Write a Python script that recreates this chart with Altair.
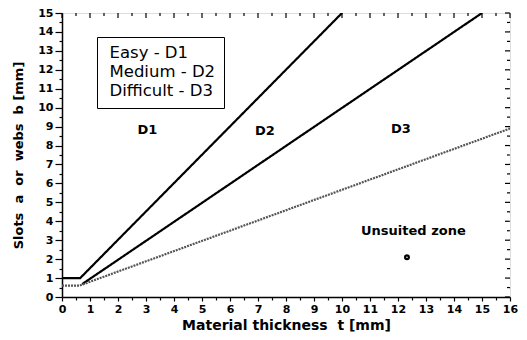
import altair as alt
import pandas as pd

# ---- data ----
categories = ["Easy - D1", "Medium - D2", "Difficult - D3"]

d1_t = [0.0, 0.65, 10.0]
d1_b = [1.0, 1.0, 15.0]

d2_t = [0.72, 15.0]
d2_b = [0.68, 15.0]

d3_t = [0.0, 0.62, 16.0]
d3_b = [0.6, 0.6, 8.9]

region_labels = ["D1", "D2", "D3", "Unsuited zone"]
region_t = [3.05, 7.25, 12.1, 12.55]
region_b = [8.8, 8.75, 8.85, 3.5]

blob_t = [12.32]
blob_b = [2.1]

x_ticks = [i * 0.5 for i in range(33)]
y_ticks = [i * 0.5 for i in range(31)]
x_max = 16
y_max = 15

x_title = "Material thickness\u00a0\u00a0t [mm]"
y_title = "Slots\u00a0\u00a0a\u00a0\u00a0or\u00a0\u00a0webs\u00a0\u00a0b [mm]"

# ---- tables ----
rows = []
for name, ts, bs in zip(categories, [d1_t, d2_t, d3_t], [d1_b, d2_b, d3_b]):
    for i, (t, b) in enumerate(zip(ts, bs)):
        rows.append({"level": name, "t": t, "b": b, "i": i})
lines = pd.DataFrame(rows)
labels = pd.DataFrame({"txt": region_labels, "t": region_t, "b": region_b})
blob = pd.DataFrame({"t": blob_t, "b": blob_b})
tx = pd.DataFrame({"v": x_ticks})
ty = pd.DataFrame({"v": y_ticks})

FONT = "DejaVu Sans"
major = "datum.value % 1 === 0"
label_expr = f"{major} ? '' + datum.value : ''"

xscale = alt.Scale(domain=[0, x_max], nice=False, zero=False)
yscale = alt.Scale(domain=[0, y_max], nice=False, zero=False)

xaxis = alt.Axis(
    values=x_ticks, labelExpr=label_expr,
    tickSize={"condition": {"test": major, "value": 4}, "value": 3},
    tickColor="black", tickWidth=1.2, domainColor="black", domainWidth=1.5,
    labelFont=FONT, labelFontWeight="bold", labelFontSize=11, labelColor="black",
    labelPadding=2, labelOverlap=False, labelFlush=False, grid=False,
    title=x_title, titleFont=FONT, titleFontSize=14, titleFontWeight="bold",
    titleColor="black", titlePadding=4,
)
yaxis = alt.Axis(
    values=y_ticks, labelExpr=label_expr,
    tickSize={"condition": {"test": major, "value": 7}, "value": 3},
    tickColor="black", tickWidth=1.2, domainColor="black", domainWidth=1.5,
    labelFont=FONT, labelFontWeight="bold", labelFontSize=11, labelColor="black",
    labelPadding=2, labelOverlap=False, labelFlush=False, grid=False,
    title=y_title, titleFont=FONT, titleFontSize=13, titleFontWeight="bold",
    titleColor="black", titlePadding=12,
)

line_chart = alt.Chart(lines).mark_line(clip=True).encode(
    x=alt.X("t:Q", scale=xscale, axis=xaxis),
    y=alt.Y("b:Q", scale=yscale, axis=yaxis),
    color=alt.Color(
        "level:N",
        scale=alt.Scale(domain=categories, range=["#000000", "#000000", "#555555"]),
        legend=alt.Legend(
            title=None, orient="none", legendX=35, legendY=24,
            strokeColor="black", fillColor="white", padding=8,
            labelFont=FONT, labelFontSize=16.5, labelColor="black",
            labelOffset={"expr": "-12"}, rowPadding=2, symbolSize=0, symbolOpacity=0,
            symbolStrokeWidth=0,
        ),
    ),
    strokeWidth=alt.StrokeWidth(
        "level:N", scale=alt.Scale(domain=categories, range=[2.2, 2.2, 1.0]), legend=None
    ),
    strokeDash=alt.StrokeDash(
        "level:N", scale=alt.Scale(domain=categories, range=[[1, 0], [1, 0], [2, 1]]), legend=None
    ),
    order="i:Q",
)

text_chart = alt.Chart(labels).mark_text(
    font=FONT, fontWeight="bold", fontSize=13, color="black"
).encode(
    x=alt.X("t:Q", scale=xscale, axis=None),
    y=alt.Y("b:Q", scale=yscale, axis=None),
    text="txt:N",
)

blob_chart = alt.Chart(blob).mark_point(
    shape="circle", filled=False, size=14, strokeWidth=2.2, color="black", opacity=1
).encode(
    x=alt.X("t:Q", scale=xscale, axis=None),
    y=alt.Y("b:Q", scale=yscale, axis=None),
)


def top_ticks(test, length):
    return alt.Chart(tx).transform_filter(test).mark_tick(
        orient="vertical", size=length, thickness=1.2, color="black",
        yOffset=length / 2, opacity=1,
    ).encode(
        x=alt.X("v:Q", scale=xscale, axis=None),
        y=alt.YDatum(y_max, type="quantitative", scale=yscale, axis=None),
    )


def right_ticks(test, length):
    return alt.Chart(ty).transform_filter(test).mark_tick(
        orient="horizontal", size=length, thickness=1.2, color="black",
        xOffset=-length / 2, opacity=1,
    ).encode(
        y=alt.Y("v:Q", scale=yscale, axis=None),
        x=alt.XDatum(x_max, type="quantitative", scale=xscale, axis=None),
    )


is_major = "datum.v % 1 === 0"
is_minor = "datum.v % 1 !== 0"

chart = alt.layer(
    line_chart, text_chart, blob_chart,
    top_ticks(is_major, 5), top_ticks(is_minor, 3),
    right_ticks(is_major, 5), right_ticks(is_minor, 3),
).resolve_axis(
    x="independent", y="independent"
).properties(
    width=448, height=284,
    autosize=alt.AutoSizeParams(type="none"),
    padding={"left": 54, "top": 5, "right": 9, "bottom": 35},
).configure_view(stroke="black", strokeWidth=1.5).configure(background="white")

chart.save("out.html", embed_options={"renderer": "svg", "actions": False})
